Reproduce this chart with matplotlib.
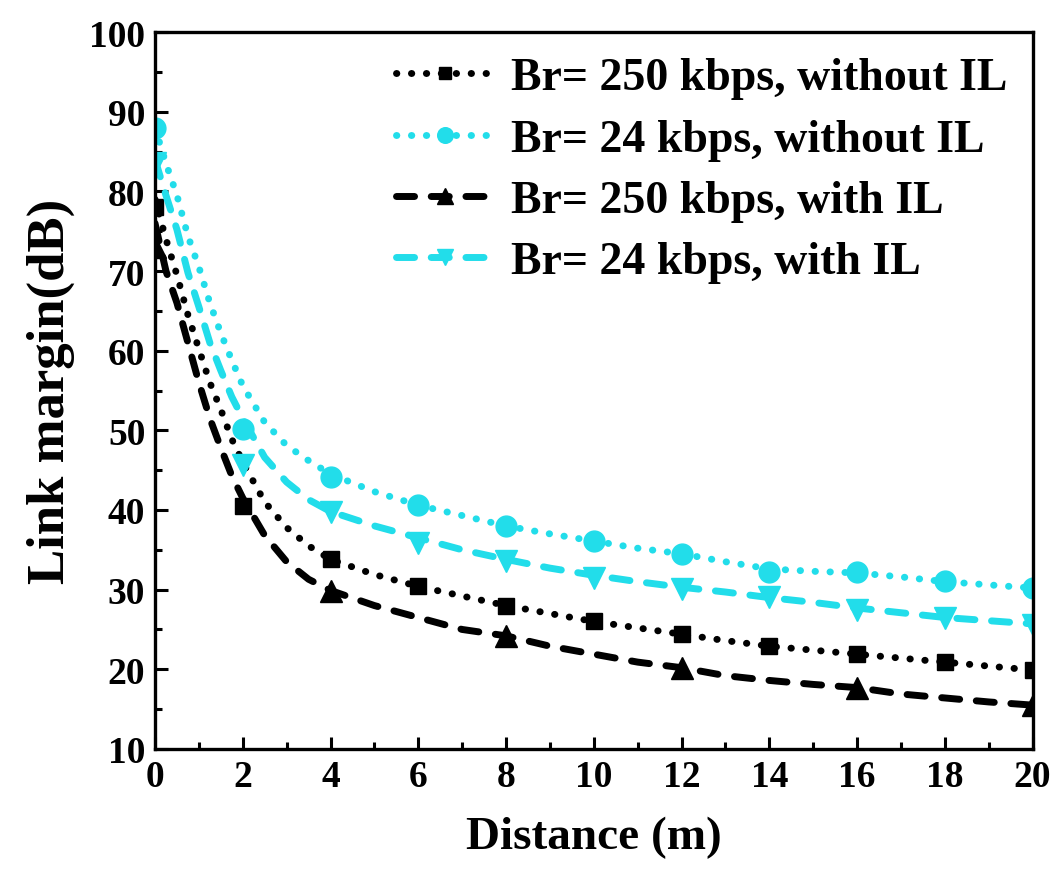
import matplotlib.pyplot as plt
from matplotlib.lines import Line2D
from matplotlib.ticker import MultipleLocator

# curve readings (smooth line) and marker readings, distance in m, margin in dB
line_x = [0, 0.25, 0.5, 0.75, 1, 1.25, 1.5, 1.75, 2, 2.5, 3, 3.5, 4, 5, 6, 7, 8,
          9, 10, 11, 12, 13, 14, 15, 16, 17, 18, 19, 20]
line_250_noil = [79, 74, 69.5, 64.5, 60.2, 56, 52.6, 48.9, 46, 41, 37.8, 35.5, 33.8,
                 31.9, 30.4, 29.2, 28.0, 27.0, 26.0, 25.2, 24.4, 23.6, 22.9, 22.4,
                 21.9, 21.4, 20.9, 20.4, 19.9]
line_24_noil = [88, 83.5, 79.5, 74.4, 70.5, 66, 62.2, 58.8, 55.6, 51.0, 48.1, 46.2, 44.5,
                42.3, 40.6, 39.3, 38.0, 37.0, 36.1, 35.2, 34.5, 33.5, 32.6, 32.3,
                32.1, 31.6, 31.0, 30.6, 30.2]
line_250_il = [76, 70, 66, 61, 56, 51.5, 47.8, 44.3, 41.5, 36.8, 33.5, 31.3, 29.9,
               28.0, 26.5, 25.0, 24.2, 22.9, 21.9, 20.9, 20.2, 19.2, 18.6, 18.1,
               17.7, 16.9, 16.4, 15.9, 15.5]
line_24_il = [84, 79.5, 75.2, 69.8, 65.5, 61, 57.5, 54.2, 51.5, 46.6, 43.5, 41.3, 39.8,
              38.0, 36.5, 35.0, 33.8, 32.7, 31.8, 31.0, 30.3, 29.7, 29.0, 28.4,
              27.7, 27.1, 26.5, 26.1, 25.7]

mk_x = [0, 2, 4, 6, 8, 10, 12, 14, 16, 18, 20]
mk_250_noil = [78, 40.5, 33.9, 30.5, 28.0, 26.0, 24.4, 22.9, 21.9, 20.9, 19.9]
mk_24_noil = [88, 50.2, 44.1, 40.6, 38.0, 36.1, 34.5, 32.2, 32.2, 31.1, 30.2]
mk_24_il = [83.5, 45.7, 39.7, 35.9, 33.6, 31.5, 30.1, 29.1, 27.5, 26.4, 25.6]
mk_x4 = [0, 4, 8, 12, 16, 20]
mk_250_il = [73, 29.8, 24.2, 20.2, 17.7, 15.5]

labels = ["Br= 250 kbps, without IL", "Br= 24 kbps, without IL",
          "Br= 250 kbps, with IL", "Br= 24 kbps, with IL"]

cyan = "#22DDEA"
dot = (0, (0.05, 2.1))
dash = (0, (2.6, 2.4))
lw = 5

plt.rcParams["font.family"] = ["Liberation Serif", "DejaVu Serif"]
plt.rcParams["font.weight"] = "bold"

fig = plt.figure(figsize=(10.58, 8.70), dpi=100)
ax = fig.add_axes([0.1465, 0.138, 0.8295, 0.824])

styles = [
    (line_x, line_250_noil, mk_x, mk_250_noil, "black", dot, "s", 12),
    (line_x, line_24_noil, mk_x, mk_24_noil, cyan, dot, "o", 15),
    (line_x, line_250_il, mk_x4, mk_250_il, "black", dash, "^", 16),
    (line_x, line_24_il, mk_x, mk_24_il, cyan, dash, "v", 16),
]

handles = []
for (lx, ly, mx, my, c, ls, m, ms), lab in zip(styles, labels):
    ax.plot(lx, ly, color=c, linestyle=ls, linewidth=lw,
            dash_capstyle="round", solid_capstyle="round")
    ax.plot(mx, my, linestyle="none", marker=m, markersize=ms, color=c)
    handles.append(Line2D([], [], color=c, linestyle=ls, linewidth=lw,
                          dash_capstyle="round", marker=m, markersize=ms * 0.75,
                          label=lab))

ax.set_xlim(0, 20)
ax.set_ylim(10, 100)
ax.xaxis.set_major_locator(MultipleLocator(2))
ax.xaxis.set_minor_locator(MultipleLocator(1))
ax.yaxis.set_major_locator(MultipleLocator(10))
ax.yaxis.set_minor_locator(MultipleLocator(5))
ax.tick_params(which="both", direction="in", width=2.2, labelsize=27, pad=7)
ax.tick_params(which="major", length=9)
ax.tick_params(which="minor", length=5)
for s in ax.spines.values():
    s.set_linewidth(2.4)

ax.set_xlabel("Distance (m)", fontsize=34, fontweight="bold", labelpad=16)
ax.set_ylabel("Link margin(dB)", fontsize=38, fontweight="bold", labelpad=10)

ax.legend(handles=handles, loc="upper right", bbox_to_anchor=(1.0, 1.0),
          frameon=False, fontsize=33, handlelength=2.1, handletextpad=0.4,
          labelspacing=0.42, borderaxespad=0.15)

fig.savefig("out.png", dpi=100)
